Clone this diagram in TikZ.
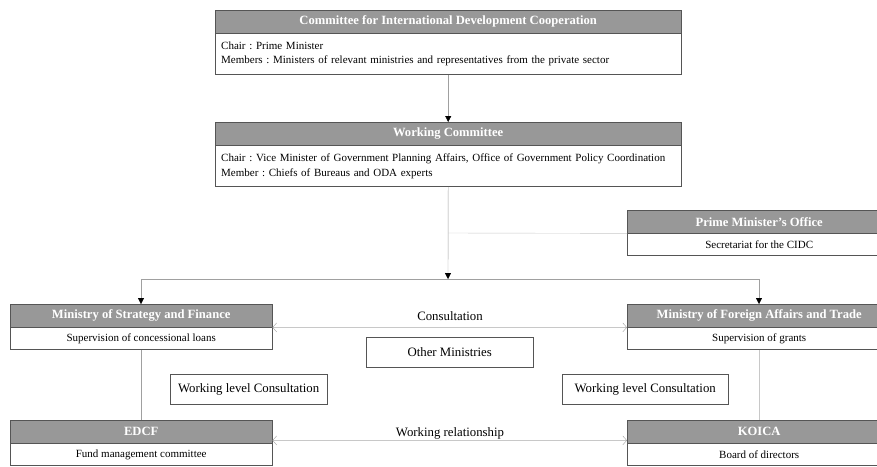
\documentclass[tikz,border=0pt]{standalone}
\usepackage{fontspec}
\setmainfont{Liberation Serif}
\usetikzlibrary{arrows.meta}
\definecolor{headgray}{RGB}{152,152,152}
\definecolor{edgegray}{RGB}{85,85,85}
\definecolor{linegray}{RGB}{160,160,160}
\definecolor{palegray}{RGB}{200,200,200}
\tikzset{
  head/.style={draw=edgegray, fill=headgray, text=white, inner sep=0pt,
    font=\bfseries\fontsize{12.6}{14}\selectfont, anchor=north west, minimum height=23pt},
  body/.style={draw=edgegray, fill=white, inner sep=0pt, anchor=north west,
    font=\frenchspacing\fontsize{11}{14.5}\selectfont},
  plain/.style={draw=edgegray, inner sep=0pt, font=\fontsize{12.8}{15}\selectfont,
    minimum height=30pt, anchor=north west},
  tag/.style={font=\fontsize{12.8}{15}\selectfont},
  down/.style={draw=linegray, -{Triangle[color=black, length=6pt, width=6pt]}},
  both/.style={draw=palegray, {Straight Barb[color=linegray, length=4pt, width=9pt]}-{Straight Barb[color=linegray, length=4pt, width=9pt]}}
}
\begin{document}
\begin{tikzpicture}[x=1pt, y=-1pt]
    \useasboundingbox (0,0) rectangle (877,466);
    \clip (0,0) rectangle (877,466);

    % Row 1
    \node[head, minimum width=466pt] (cidch) at (215,10) {Committee for International Development Cooperation};
    \node[body, minimum width=466pt, minimum height=41pt, text width=454pt, inner xsep=6pt, align=left] (cidcb) at (cidch.south west)
        {Chair : Prime Minister\\Members : Ministers of relevant ministries and representatives from the private sector};

    % Row 2
    \node[head, minimum width=466pt] (wch) at (215,122) {Working Committee};
    \node[body, minimum width=466pt, minimum height=41pt, text width=454pt, inner xsep=6pt, align=left] (wcb) at (wch.south west)
        {Chair : Vice Minister of Government Planning Affairs, Office of Government Policy Coordination\\Member : Chiefs of Bureaus and ODA experts};

    % Row 3
    \node[head, minimum width=264pt] (pmoh) at (627,210) {Prime Minister’s Office};
    \node[body, minimum width=264pt, minimum height=22pt] (pmob) at (pmoh.south west) {Secretariat for the CIDC};
    \coordinate (pmojoin) at (448,233);
    \coordinate (split) at (448,279);
    \coordinate (splitl) at (141,279);
    \coordinate (splitr) at (759,279);

    % Row 4
    \node[head, minimum width=262pt] (mosfh) at (10,304) {Ministry of Strategy and Finance};
    \node[body, minimum width=262pt, minimum height=22pt] (mosfb) at (mosfh.south west) {Supervision of concessional loans};
    \node[head, minimum width=264pt] (mofath) at (627,304) {Ministry of Foreign Affairs and Trade};
    \node[body, minimum width=264pt, minimum height=22pt] (mofatb) at (mofath.south west) {Supervision of grants};
    \node[tag] (consult) at (450,316) {Consultation};
    \node[plain, minimum width=167pt] (others) at (366,337) {Other Ministries};

    % Row 5
    \node[plain, minimum width=157pt] (wlcl) at (170,374) {Working level Consultation};
    \node[plain, minimum width=166pt] (wlcr) at (562,374) {Working level Consultation};

    % Row 6
    \node[head, minimum width=262pt] (edcfh) at (10,420) {EDCF};
    \node[body, minimum width=262pt, minimum height=22pt] (edcfb) at (edcfh.south west) {Fund management committee};
    \node[head, minimum width=264pt] (koicah) at (627,420) {KOICA};
    \node[body, minimum width=264pt, minimum height=22pt] (koicab) at (koicah.south west) {Board of directors};
    \node[tag] (relation) at (450,433) {Working relationship};

    % Edges
    \draw[down] (cidcb.south) -- (wch.north);
    \draw[down] (wcb.south) -- (split);
    \draw[palegray] (pmojoin) -- (pmoh.south west);
    \draw[linegray] (splitl) -- (splitr);
    \draw[down] (splitl) -- (splitl |- mosfh.north);
    \draw[down] (splitr) -- (splitr |- mofath.north);
    \draw[both] (mosfh.south east) -- (mofath.south west);
    \draw[linegray] (mosfb.south) -- (edcfh.north);
    \draw[palegray] (splitr |- mofatb.south) -- (splitr |- koicah.north);
    \draw[both] ([yshift=3pt]edcfh.south east) -- ([yshift=3pt]koicah.south west);
\end{tikzpicture}
\end{document}
